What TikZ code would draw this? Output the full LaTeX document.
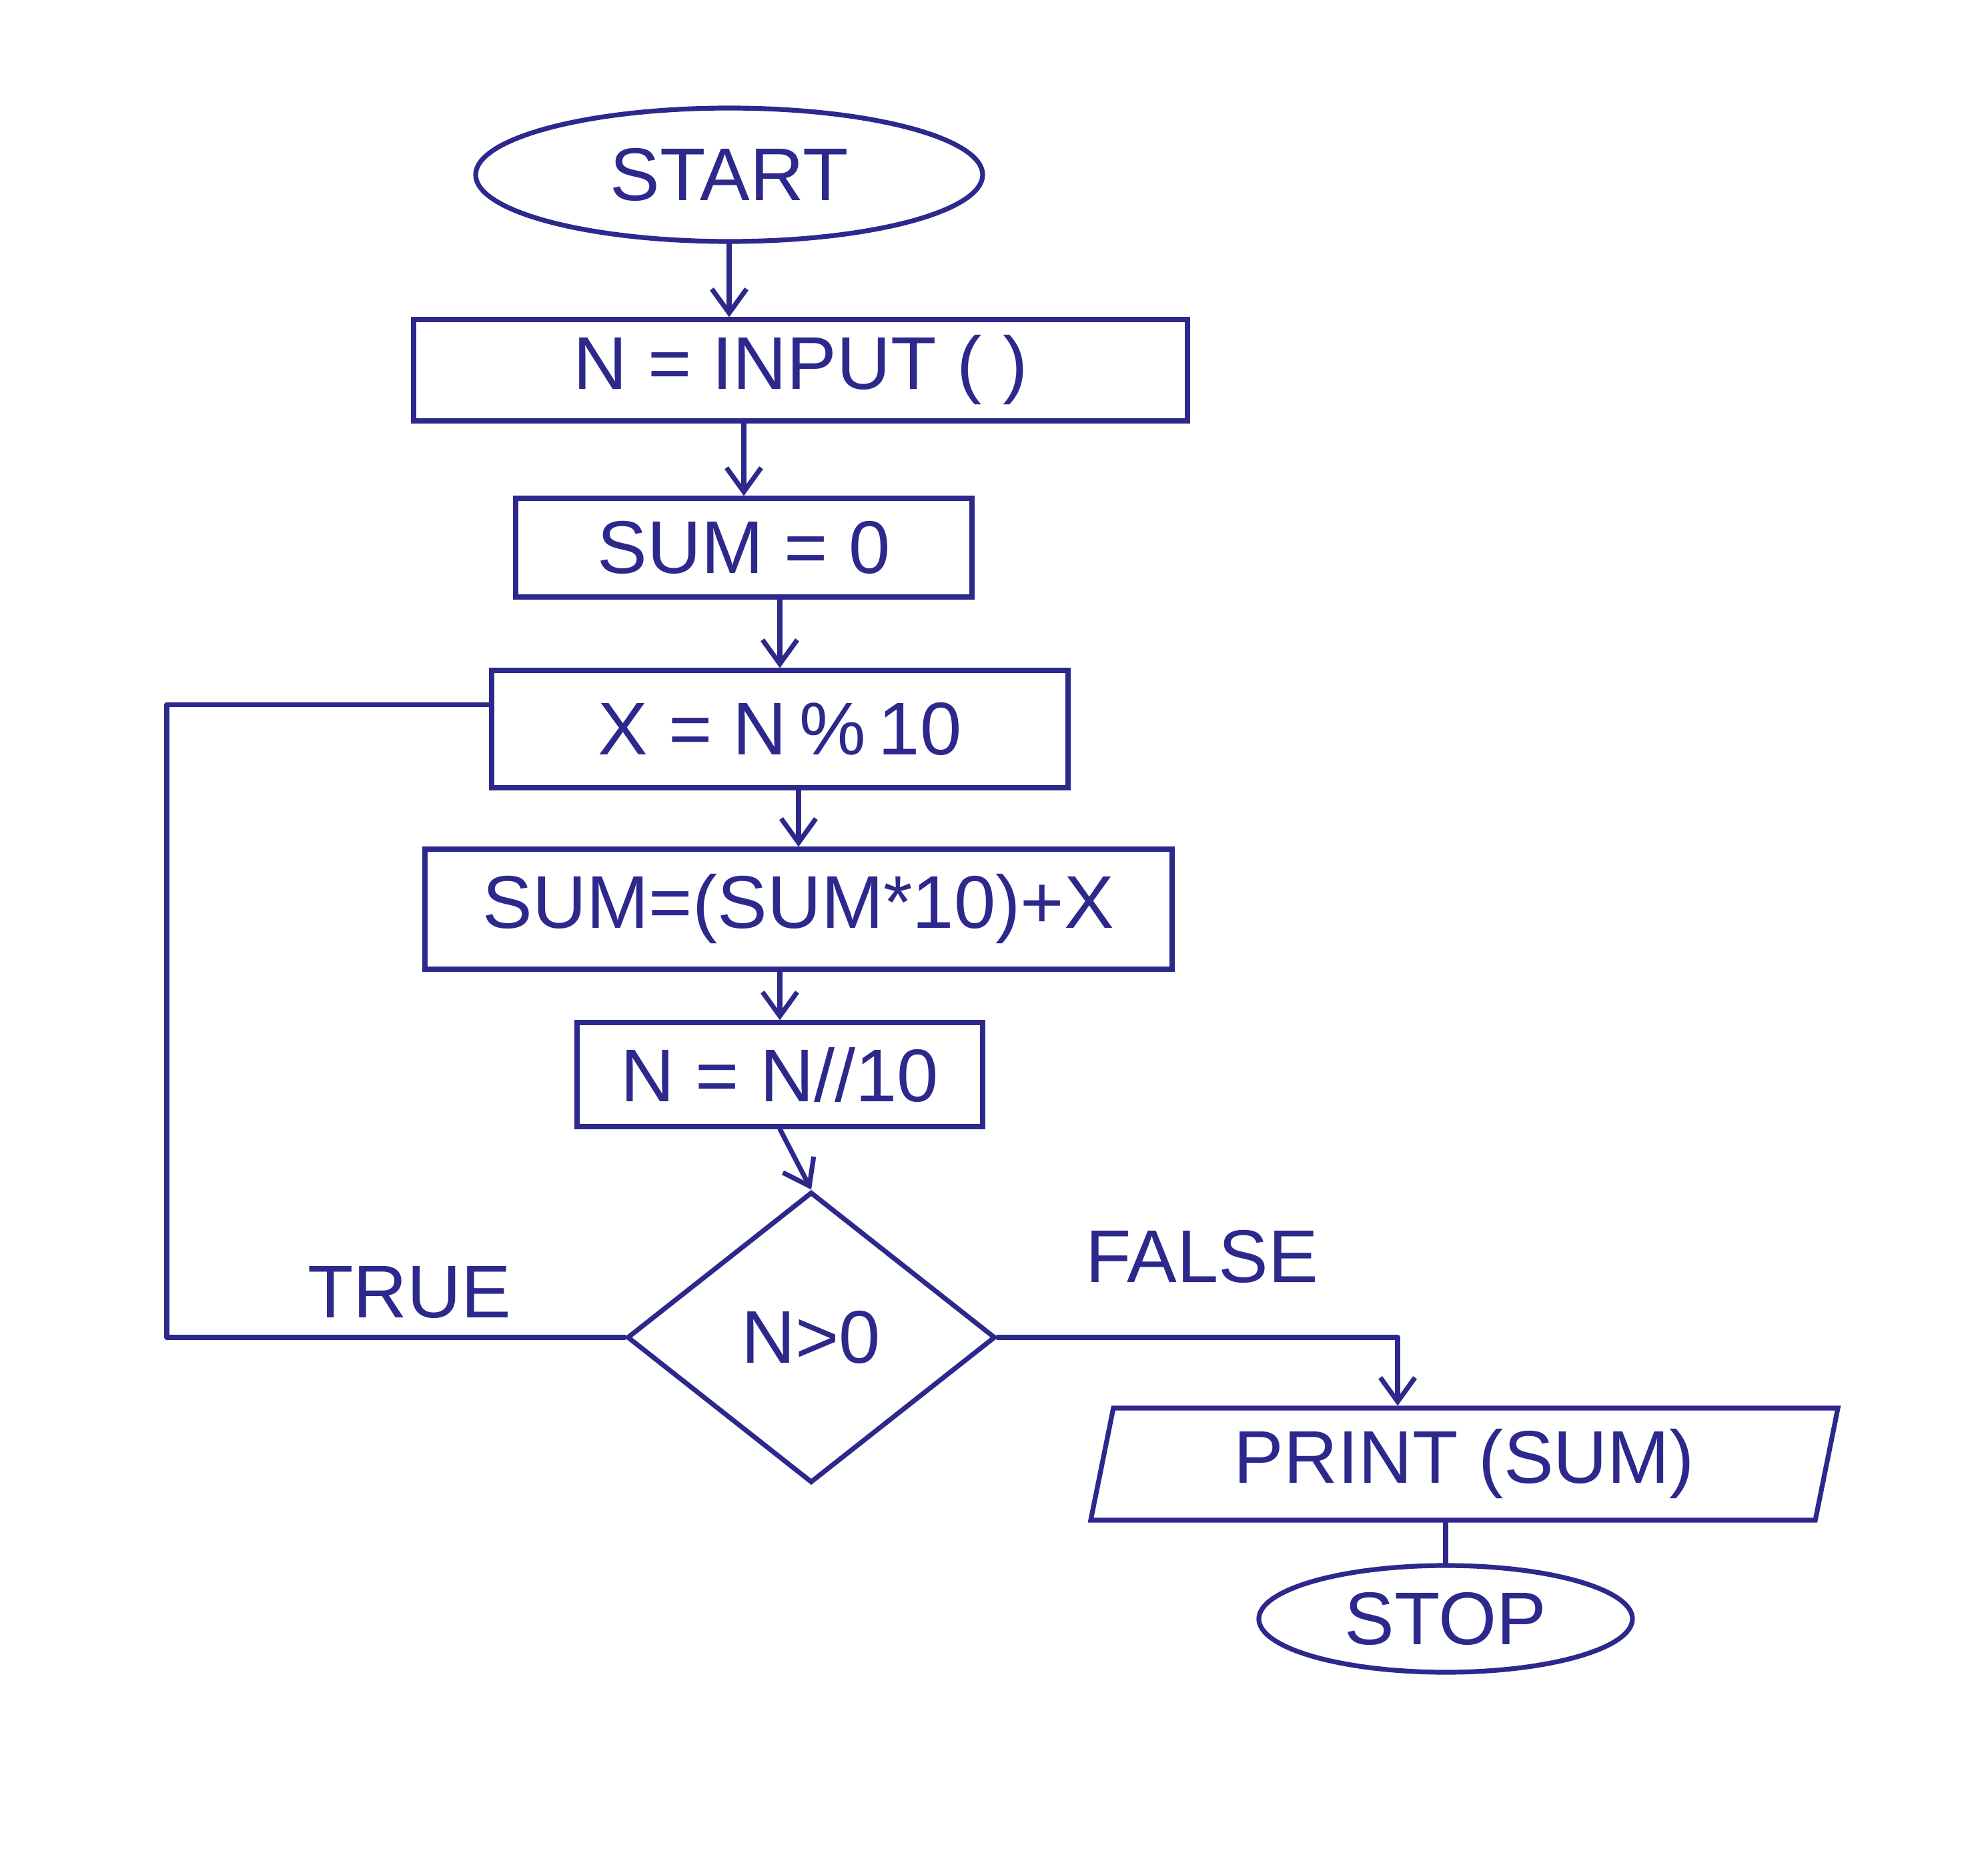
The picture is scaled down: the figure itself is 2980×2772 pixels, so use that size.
\documentclass[tikz,border=0pt]{standalone}
\usepackage{fontspec}
\setmainfont{Liberation Sans}
\usetikzlibrary{shapes.geometric,arrows.meta,calc}
\definecolor{pen}{RGB}{45,40,140}
\begin{document}
\begin{tikzpicture}[x=0.25pt,y=-0.25pt,
  every node/.style={font=\fontsize{28}{32}\selectfont, text=pen},
  line/.style={draw=pen, line width=1.8pt, line cap=round, line join=round},
  arr/.style={line, -{Straight Barb[length=9pt,width=13pt,line width=1.8pt]}},
  term/.style={ellipse, draw=pen, line width=1.8pt, inner sep=0pt},
  proc/.style={rectangle, draw=pen, line width=1.8pt, inner sep=0pt},
  io/.style={trapezium, trapezium left angle=72, trapezium right angle=108,
    trapezium stretches body=true, draw=pen, line width=1.8pt, inner sep=0pt},
  decision/.style={diamond, draw=pen, line width=1.8pt, inner sep=0pt}
]
\useasboundingbox[fill=white] (0,0) rectangle (2980,2772);

\node[term, minimum width=190pt, minimum height=50pt] (start) at (1093,262) {START};
\node[proc, minimum width=290pt, minimum height=38pt] (input) at (1200,555) {N = INPUT ( )};
\node[proc, minimum width=171pt, minimum height=37pt] (sum0) at (1115,821) {SUM = 0};
\node[proc, minimum width=216pt, minimum height=44pt] (xmod) at (1169,1093) {X = N\,\%\,10};
\node[proc, minimum width=280pt, minimum height=45pt] (sumupd) at (1197,1363) {SUM=(SUM*10)+X};
\node[proc, minimum width=152pt, minimum height=39pt] (ndiv) at (1169,1611) {N = N//10};
\node[decision, minimum width=138pt, minimum height=109pt] (dec) at (1216,2005) {N>0};
\node[io, minimum width=280pt, minimum height=42pt] (print) at (2195,2195) {PRINT (SUM)};
\node[term, minimum width=140pt, minimum height=40pt] (stop) at (2167,2427) {STOP};

\node (true) at (614,1938) {TRUE};
\node (false) at (1802,1884) {FALSE};

\draw[arr] (start.south) -- (start.south |- input.north);
\draw[arr] (input.south -| sum0.north) -- (sum0.north);
\draw[arr] (sum0.south -| xmod.north) -- (xmod.north);
\draw[arr] (xmod.south -| sumupd.north) -- (sumupd.north);
\draw[arr] (sumupd.south -| ndiv.north) -- (ndiv.north);
\draw[arr] (ndiv.south) -- (dec.north);

\coordinate (lp) at (250,2049);
\coordinate (xin) at ($(xmod.north west)!0.3!(xmod.south west)$);
\draw[line] (dec.west) -- (dec.west -| lp) -- (lp |- xin) -- (xin);

\coordinate (pin) at ($(print.north)+(-100,0)$);
\draw[arr] (dec.east) -| (pin);

\draw[line] (print.south -| stop.north) -- (stop.north);
\end{tikzpicture}
\end{document}
